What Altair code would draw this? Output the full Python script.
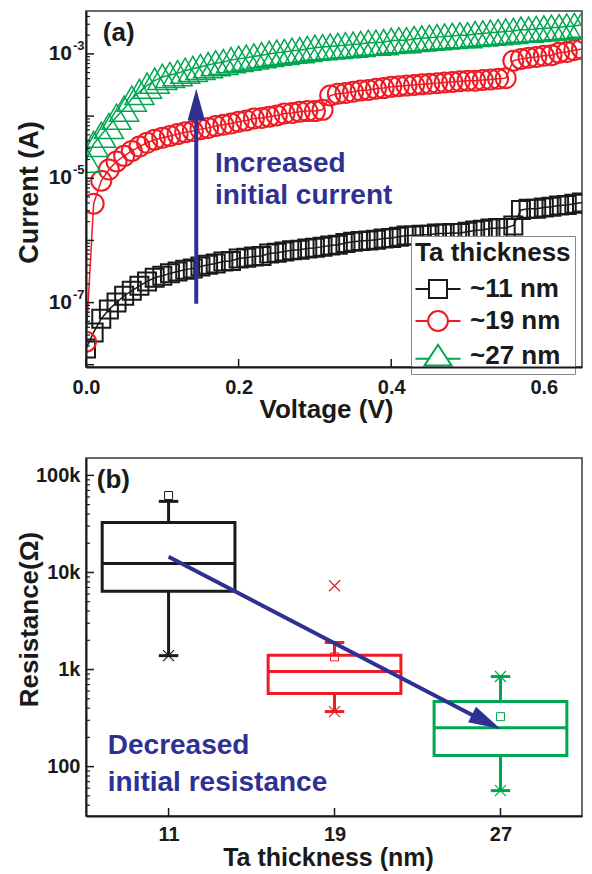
import altair as alt
import pandas as pd

FONT = "Liberation Sans"
BLACK = "#1a1a1a"
RED = "#ED1C24"
GREEN = "#00A651"
NAVY = "#2E3192"

# ---------------- panel (a) data : I-V sweeps ----------------
voltage = [0.00, 0.01, 0.02, 0.03, 0.04, 0.05, 0.06, 0.07, 0.08, 0.09,
           0.10, 0.11, 0.12, 0.13, 0.14, 0.15, 0.16, 0.17, 0.18, 0.19,
           0.20, 0.21, 0.22, 0.23, 0.24, 0.25, 0.26, 0.27, 0.28, 0.29,
           0.30, 0.31, 0.32, 0.33, 0.34, 0.35, 0.36, 0.37, 0.38, 0.39,
           0.40, 0.41, 0.42, 0.43, 0.44, 0.45, 0.46, 0.47, 0.48, 0.49,
           0.50, 0.51, 0.52, 0.53, 0.54, 0.55, 0.56, 0.57, 0.58, 0.59,
           0.60, 0.61, 0.62, 0.63, 0.64, 0.65]
# log10 of current (A)
log_current_11nm = [-7.74, -7.48, -7.26, -7.11, -7.00, -6.89, -6.81, -6.73, -6.66, -6.60,
                    -6.57, -6.53, -6.50, -6.47, -6.45, -6.42, -6.39, -6.37, -6.34, -6.33,
                    -6.29, -6.28, -6.26, -6.25, -6.21, -6.20, -6.18, -6.16, -6.15, -6.13,
                    -6.12, -6.10, -6.08, -6.07, -6.04, -6.02, -6.01, -6.00, -5.99, -5.97,
                    -5.96, -5.94, -5.92, -5.92, -5.91, -5.91, -5.89, -5.89, -5.88, -5.88,
                    -5.86, -5.84, -5.83, -5.81, -5.80, -5.80, -5.76, -5.51, -5.49, -5.49,
                    -5.47, -5.46, -5.44, -5.43, -5.41, -5.39]
log_current_19nm = [-7.63, -5.41, -5.04, -4.86, -4.73, -4.64, -4.56, -4.49, -4.43, -4.38,
                    -4.35, -4.32, -4.29, -4.26, -4.24, -4.21, -4.19, -4.16, -4.14, -4.12,
                    -4.09, -4.07, -4.04, -4.03, -4.01, -3.99, -3.96, -3.95, -3.93, -3.92,
                    -3.92, -3.90, -3.67, -3.64, -3.63, -3.61, -3.59, -3.58, -3.56, -3.55,
                    -3.53, -3.52, -3.51, -3.50, -3.49, -3.48, -3.47, -3.46, -3.45, -3.44,
                    -3.43, -3.43, -3.42, -3.41, -3.40, -3.39, -3.11, -3.08, -3.06, -3.05,
                    -3.03, -3.02, -2.98, -2.97, -2.94, -2.92]
log_current_27nm = [-4.70, -4.45, -4.30, -4.16, -4.01, -3.88, -3.72, -3.61, -3.51, -3.43,
                    -3.37, -3.34, -3.31, -3.27, -3.24, -3.21, -3.18, -3.15, -3.13, -3.10,
                    -3.08, -3.06, -3.04, -3.02, -3.00, -2.98, -2.97, -2.95, -2.94, -2.92,
                    -2.90, -2.89, -2.88, -2.87, -2.86, -2.85, -2.84, -2.82, -2.82, -2.81,
                    -2.79, -2.78, -2.78, -2.76, -2.75, -2.74, -2.73, -2.72, -2.71, -2.70,
                    -2.70, -2.68, -2.67, -2.66, -2.65, -2.64, -2.63, -2.61, -2.61, -2.60,
                    -2.59, -2.58, -2.57, -2.56, -2.55, -2.53]
series_labels = ["~11 nm", "~19 nm", "~27 nm"]
current_label_values = [1e-3, 1e-5, 1e-7]
current_label_exponents = ["-3", "-5", "-7"]
voltage_ticks = [0.0, 0.2, 0.4, 0.6]

# annotations panel (a)
ann_a_text = ["Increased", "initial current"]
ann_a_V = [0.169, 0.169]
ann_a_I = [10 ** -4.90, 10 ** -5.41]
arrow_a_V = [0.1445, 0.1445]
arrow_a_I = [10 ** -7.02, 10 ** -3.90]
arrow_a_tip = (0.1445, 10 ** -3.56)
panel_a_label = (0.022, 10 ** -2.67)

# ---------------- panel (b) data : box statistics ----------------
thickness_nm = [11, 19, 27]
res_q1 = [6400, 566, 130]
res_median = [12400, 953, 252]
res_q3 = [32700, 1400, 468]
res_whisker_low = [1390, 369, 56.6]
res_whisker_high = [54000, 1900, 847]
res_mean = [62000, 1350, 327]
cross_thickness = [11, 19, 19, 27, 27]
cross_resistance = [1390, 369, 7300, 847, 56.6]
cross_series = ["~11 nm", "~19 nm", "~19 nm", "~27 nm", "~27 nm"]
resistance_ticks = [100, 1000, 10000, 100000]
thickness_ticks = [11, 19, 27]

ann_b_text = ["Decreased", "initial resistance"]
ann_b_t = [8.07, 8.07]
ann_b_R = [134.5, 55.8]
arrow_b_t = [11.0, 26.1]
arrow_b_R = [14500, 302]
arrow_b_tip = (27.0, 244)
panel_b_label = (7.54, 88700)

# ---------------- styling constants ----------------
W, H_A, H_B = 496, 356, 358
BOX_HALF = 3.2
CAP_HALF = 0.47
ARROW_PATH = "M0,0L-0.6,2.2L0.6,2.2Z"
X_PATH = "M-1,-1L1,1M1,-1L-1,1"
LEG_SQ = "M-2.5,0L-1,0M-1,-1L1,-1L1,1L-1,1ZM1,0L2.5,0"
LEG_CI = "M-2.5,0L-1.1,0A1.1,1.1,0,1,1,1.1,0A1.1,1.1,0,1,1,-1.1,0M1.1,0L2.5,0"
LEG_TR = "M-2.5,0.3L-1.01,0.3M0,-1.25L-1.5,1.05L1.5,1.05ZM1.01,0.3L2.5,0.3"
LEG_RECT = "M-2.5,-1.2L2.5,-1.2L2.5,1.2L-2.5,1.2Z"

txt = dict(font=FONT, fontWeight="bold")

# ================= panel (a) =================
x_a = alt.Scale(domain=[0, 0.65], nice=False, zero=False)
y_a = alt.Scale(type="log", domain=[9.2e-9, 4.9e-3], nice=False)
xaxis_a = alt.Axis(title="Voltage (V)", values=voltage_ticks, format=".1f", ticks=False, grid=False,
                   labelFlush=False, labelPadding=10, labelFontSize=20, labelFont=FONT,
                   labelFontWeight="bold", labelColor=BLACK, titleFont=FONT, titleFontSize=26,
                   titleFontWeight="bold", titleColor=BLACK, titleX=240, titleY=50,
                   titleBaseline="alphabetic", domainColor=BLACK, domainWidth=2, zindex=2)
yaxis_a = alt.Axis(title="Current (A)", labels=False, ticks=False, grid=False,
                   titleFont=FONT, titleFontSize=27, titleFontWeight="bold", titleColor=BLACK,
                   titleX=-43, titleY=181, domainColor=BLACK, domainWidth=2, zindex=2)


def XA(f):
    return alt.X(f"{f}:Q", scale=x_a, axis=xaxis_a)


def YA(f):
    return alt.Y(f"{f}:Q", scale=y_a, axis=yaxis_a)


layers_a = []
for lst, lab, col, shp, sz, sw in [
    (log_current_11nm, series_labels[0], BLACK, "square", 324, 2),
    (log_current_19nm, series_labels[1], RED, "circle", 400, 2),
    (log_current_27nm, series_labels[2], GREEN, "triangle-up", 841, 1.5),
]:
    d = pd.DataFrame({"V": voltage, "I": [10 ** v for v in lst]})
    base = alt.Chart(d)
    layers_a.append(base.mark_line(color=col, strokeWidth=1.5, clip=True).encode(x=XA("V"), y=YA("I")))
    layers_a.append(base.mark_point(shape=shp, size=sz, color=col, filled=False, strokeWidth=sw,
                                    opacity=1, clip=True).encode(x=XA("V"), y=YA("I")))

# inward ticks
dec_a = pd.DataFrame({"t": [1e-8, 1e-7, 1e-6, 1e-5, 1e-4, 1e-3]})
minor_vals = [m * 10.0 ** k for k in range(-9, -2) for m in range(2, 10)]
minor_a = pd.DataFrame({"t": [v for v in minor_vals if 9.2e-9 <= v <= 4.9e-3]})
layers_a.append(alt.Chart(dec_a).mark_rule(color=BLACK, strokeWidth=1.5).encode(
    y=YA("t"), x=alt.value(0), x2=alt.value(8)))
layers_a.append(alt.Chart(minor_a).mark_rule(color=BLACK, strokeWidth=1.2).encode(
    y=YA("t"), x=alt.value(0), x2=alt.value(4)))
layers_a.append(alt.Chart(pd.DataFrame({"t": voltage_ticks})).mark_rule(color=BLACK, strokeWidth=1.5).encode(
    x=XA("t"), y=alt.value(H_A), y2=alt.value(H_A - 8)))

# y labels 10^n
ylab = pd.DataFrame({"val": current_label_values, "ex": current_label_exponents})
layers_a.append(alt.Chart(ylab).mark_text(align="right", baseline="middle", fontSize=21, color=BLACK, **txt).encode(
    y=YA("val"), x=alt.value(-14), text=alt.value("10")))
layers_a.append(alt.Chart(ylab).mark_text(align="left", baseline="middle", fontSize=13, dy=-8, color=BLACK, **txt).encode(
    y=YA("val"), x=alt.value(-13), text="ex:N"))

# annotations
layers_a.append(alt.Chart(pd.DataFrame({"V": ann_a_V, "I": ann_a_I, "text": ann_a_text})).mark_text(
    align="left", baseline="alphabetic", fontSize=28, color=NAVY, **txt).encode(x=XA("V"), y=YA("I"), text="text:N"))
layers_a.append(alt.Chart(pd.DataFrame({"V": [panel_a_label[0]], "I": [panel_a_label[1]], "text": ["(a)"]})).mark_text(
    align="left", baseline="middle", fontSize=26, color=BLACK, **txt).encode(x=XA("V"), y=YA("I"), text="text:N"))
layers_a.append(alt.Chart(pd.DataFrame({"V": arrow_a_V, "I": arrow_a_I})).mark_line(
    color=NAVY, strokeWidth=4).encode(x=XA("V"), y=YA("I")))
layers_a.append(alt.Chart(pd.DataFrame({"V": [arrow_a_tip[0]], "I": [arrow_a_tip[1]]})).mark_point(
    shape=ARROW_PATH, size=841, filled=True, color=NAVY, opacity=1, angle=0).encode(x=XA("V"), y=YA("I")))

leg_a = alt.Legend(title="Ta thickness", orient="none", legendX=325, legendY=225, direction="vertical",
                   titleFont=FONT, titleFontSize=26, titleFontWeight="bold", titleColor=BLACK, titlePadding=10,
                   labelFont=FONT, labelFontSize=26, labelFontWeight="bold", labelColor=BLACK,
                   labelOffset=19, symbolOffset=10, symbolSize=324, symbolStrokeWidth=2, symbolOpacity=1,
                   rowPadding=5, padding=4, strokeColor="#888888", fillColor="white",
                   labelLimit=300, titleLimit=300, zindex=1)
layers_a.append(alt.Chart(pd.DataFrame({"series": series_labels})).mark_point(opacity=0, filled=False).encode(
    x=alt.value(W / 2), y=alt.value(H_A / 2),
    color=alt.Color("series:N", scale=alt.Scale(domain=series_labels, range=[BLACK, RED, GREEN]), legend=leg_a),
    shape=alt.Shape("series:N", scale=alt.Scale(domain=series_labels, range=[LEG_SQ, LEG_CI, LEG_TR]), legend=leg_a),
))

top = alt.layer(*layers_a).properties(width=W, height=H_A)

# ================= panel (b) =================
x_b = alt.Scale(domain=[7.02, 30.93], nice=False, zero=False)
y_b = alt.Scale(type="log", domain=[31, 151000], nice=False)
xaxis_b = alt.Axis(title="Ta thickness (nm)", values=thickness_ticks, format="d", ticks=False, grid=False,
                   labelFlush=False, labelPadding=8, labelFontSize=20, labelFont=FONT,
                   labelFontWeight="bold", labelColor=BLACK, titleFont=FONT, titleFontSize=25,
                   titleFontWeight="bold", titleColor=BLACK, titleX=242, titleY=49,
                   titleBaseline="alphabetic", domainColor=BLACK, domainWidth=2, zindex=2)
yaxis_b = alt.Axis(title="Resistance(Ω)", values=resistance_ticks,
                   labelExpr="datum.value >= 1000 ? format(datum.value / 1000, 'd') + 'k' : format(datum.value, 'd')",
                   ticks=False, grid=False, labelPadding=6, labelFontSize=20, labelFont=FONT,
                   labelFontWeight="bold", labelColor=BLACK, titleFont=FONT, titleFontSize=26,
                   titleFontWeight="bold", titleColor=BLACK, titleX=-44, titleY=161,
                   domainColor=BLACK, domainWidth=2, zindex=2)


def XB(f):
    return alt.X(f"{f}:Q", scale=x_b, axis=xaxis_b)


def YB(f):
    return alt.Y(f"{f}:Q", scale=y_b, axis=yaxis_b)


stroke_b = alt.Stroke("label:N", scale=alt.Scale(domain=series_labels, range=[BLACK, RED, GREEN]), legend=None)

df_box = pd.DataFrame({"t": thickness_nm, "q1": res_q1, "med": res_median, "q3": res_q3,
                       "lo": res_whisker_low, "hi": res_whisker_high, "mean": res_mean,
                       "label": series_labels})
box_base = alt.Chart(df_box).transform_calculate(
    xl=f"datum.t - {BOX_HALF}", xr=f"datum.t + {BOX_HALF}",
    cl=f"datum.t - {CAP_HALF}", cr=f"datum.t + {CAP_HALF}")

layers_b = []
dec_b = pd.DataFrame({"t": resistance_ticks})
minor_b_vals = [m * 10.0 ** k for k in range(1, 6) for m in range(2, 10)]
minor_b = pd.DataFrame({"t": [v for v in minor_b_vals if 31 <= v <= 151000]})
layers_b.append(alt.Chart(dec_b).mark_rule(color=BLACK, strokeWidth=1.5).encode(
    y=YB("t"), x=alt.value(0), x2=alt.value(8)))
layers_b.append(alt.Chart(minor_b).mark_rule(color=BLACK, strokeWidth=1.2).encode(
    y=YB("t"), x=alt.value(0), x2=alt.value(4)))
layers_b.append(alt.Chart(pd.DataFrame({"t": thickness_ticks})).mark_rule(color=BLACK, strokeWidth=1.5).encode(
    x=XB("t"), y=alt.value(H_B), y2=alt.value(H_B - 8)))

layers_b.append(box_base.mark_rect(fillOpacity=0, strokeWidth=3).encode(
    x=XB("xl"), x2="xr:Q", y=YB("q1"), y2="q3:Q", stroke=stroke_b))
layers_b.append(box_base.mark_rule(strokeWidth=3).encode(
    x=XB("xl"), x2="xr:Q", y=YB("med"), stroke=stroke_b))
layers_b.append(box_base.mark_rule(strokeWidth=3).encode(
    x=XB("t"), y=YB("q3"), y2="hi:Q", stroke=stroke_b))
layers_b.append(box_base.mark_rule(strokeWidth=3).encode(
    x=XB("t"), y=YB("lo"), y2="q1:Q", stroke=stroke_b))
layers_b.append(box_base.mark_rule(strokeWidth=3).encode(
    x=XB("cl"), x2="cr:Q", y=YB("hi"), stroke=stroke_b))
layers_b.append(box_base.mark_rule(strokeWidth=3).encode(
    x=XB("cl"), x2="cr:Q", y=YB("lo"), stroke=stroke_b))
layers_b.append(box_base.mark_point(shape="square", size=64, strokeWidth=1, filled=False, opacity=1).encode(
    x=XB("t"), y=YB("mean"), stroke=stroke_b))
layers_b.append(alt.Chart(pd.DataFrame({"t": cross_thickness, "r": cross_resistance, "label": cross_series}))
                .mark_point(shape=X_PATH, size=121, strokeWidth=1.2, filled=False, opacity=1).encode(
    x=XB("t"), y=YB("r"), stroke=stroke_b))

layers_b.append(alt.Chart(pd.DataFrame({"t": arrow_b_t, "r": arrow_b_R})).mark_line(
    color=NAVY, strokeWidth=4).encode(x=XB("t"), y=YB("r")))
layers_b.append(alt.Chart(pd.DataFrame({"t": [arrow_b_tip[0]], "r": [arrow_b_tip[1]]})).mark_point(
    shape=ARROW_PATH, size=841, filled=True, color=NAVY, opacity=1, angle=117).encode(x=XB("t"), y=YB("r")))
layers_b.append(alt.Chart(pd.DataFrame({"t": ann_b_t, "r": ann_b_R, "text": ann_b_text})).mark_text(
    align="left", baseline="alphabetic", fontSize=28, color=NAVY, **txt).encode(x=XB("t"), y=YB("r"), text="text:N"))
layers_b.append(alt.Chart(pd.DataFrame({"t": [panel_b_label[0]], "r": [panel_b_label[1]], "text": ["(b)"]})).mark_text(
    align="left", baseline="middle", fontSize=26, color=BLACK, **txt).encode(x=XB("t"), y=YB("r"), text="text:N"))

leg_b = alt.Legend(title="Ta thickness", orient="none", legendX=316, legendY=6, direction="vertical",
                   titleFont=FONT, titleFontSize=26, titleFontWeight="bold", titleColor=BLACK, titlePadding=11,
                   labelFont=FONT, labelFontSize=26, labelFontWeight="bold", labelColor=BLACK,
                   labelOffset=26, symbolOffset=11, symbolSize=324, symbolStrokeWidth=3, symbolOpacity=1,
                   rowPadding=4, padding=8, strokeColor="#888888", fillColor="white",
                   labelLimit=300, titleLimit=300)
layers_b.append(alt.Chart(pd.DataFrame({"series_b": series_labels})).mark_point(opacity=0, filled=False).encode(
    x=alt.value(W / 2), y=alt.value(H_B / 2),
    color=alt.Color("series_b:N", scale=alt.Scale(domain=series_labels, range=[BLACK, RED, GREEN]), legend=leg_b),
    shape=alt.Shape("series_b:N", scale=alt.Scale(domain=series_labels, range=[LEG_RECT, LEG_RECT, LEG_RECT]), legend=leg_b),
))

bottom = alt.layer(*layers_b).properties(width=W, height=H_B)

chart = (
    alt.vconcat(top, bottom, spacing=34)
    .resolve_scale(color="independent", shape="independent", stroke="independent")
    .resolve_legend(color="independent", shape="independent")
    .properties(padding={"left": 6, "top": 2, "right": 0, "bottom": 0})
    .configure_view(stroke="#3a3a3a", strokeWidth=1.5)
)

chart.save("out.html", embed_options={"renderer": "svg", "actions": False})
